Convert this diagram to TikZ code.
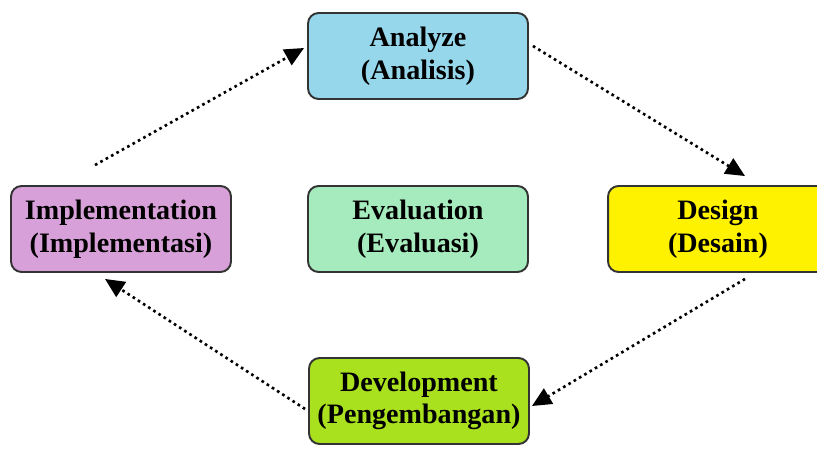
\documentclass[tikz,border=0pt]{standalone}
\usepackage{fontspec}
\setmainfont{Liberation Serif}
\usetikzlibrary{arrows.meta}

\definecolor{analyzeblue}{RGB}{150,215,235}
\definecolor{implpink}{RGB}{216,160,216}
\definecolor{evalgreen}{RGB}{166,235,190}
\definecolor{designyellow}{RGB}{255,242,0}
\definecolor{devlime}{RGB}{170,225,30}

\tikzset{
	phase/.style={draw=black!80, line width=1.1pt, rounded corners=6pt,
		minimum width=4.4cm, minimum height=1.72cm, align=center,
		font=\fontsize{16}{18.5}\selectfont\bfseries},
	flow/.style={line width=1.5pt, dash pattern=on 1.5pt off 2pt,
		-{Triangle[length=11pt,width=10pt]}}
}

\begin{document}
\begin{tikzpicture}[x=0.02cm,y=-0.02cm]
	% canvas of the reference, in pixels (y goes down)
	\useasboundingbox (0,0) rectangle (817,456);
	\clip (0,0) rectangle (817,456);
	% the five phases
	\node[phase, fill=analyzeblue] (analyze) at (418,56) {Analyze\\(Analisis)};
	\node[phase, fill=implpink] (impl) at (121,229) {Implementation\\(Implementasi)};
	\node[phase, fill=evalgreen] (eval) at (418,229) {Evaluation\\(Evaluasi)};
	\node[phase, fill=designyellow] (design) at (718,229) {Design\\(Desain)};
	\node[phase, fill=devlime] (dev) at (419,401) {Development\\(Pengembangan)};
	% the cycle: shift={(x,y)} moves an anchor by pixels
	\draw[flow] ([shift={(-26,-20)}]impl.north) -- ([shift={(-3,-8)}]analyze.west);
	\draw[flow] ([shift={(4,-10)}]analyze.east) -- ([shift={(27,-9)}]design.north);
	\draw[flow] ([shift={(27,6)}]design.south) -- ([shift={(2,5)}]dev.east);
	\draw[flow] ([shift={(-3,8)}]dev.west) -- ([shift={(-16,6)}]impl.south);
\end{tikzpicture}
\end{document}
